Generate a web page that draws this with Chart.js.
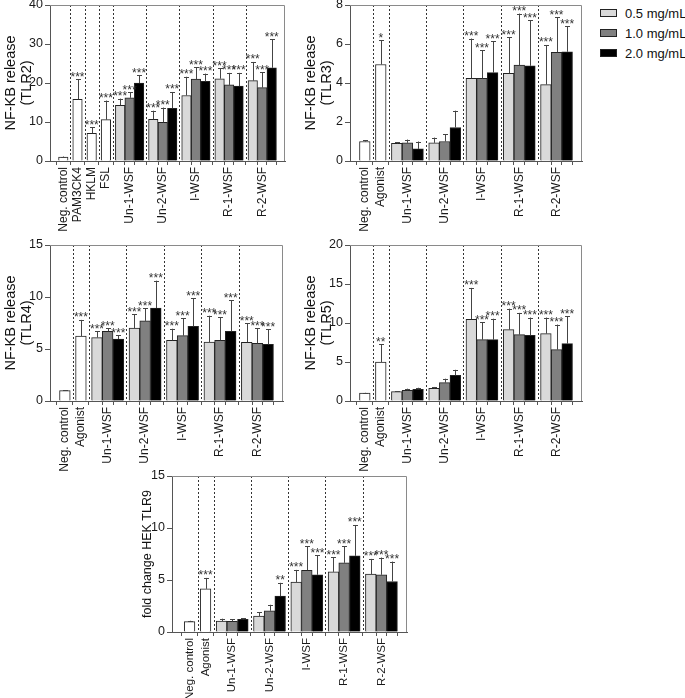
<!DOCTYPE html>
<html>
<head>
<meta charset="utf-8">
<script src="https://cdn.jsdelivr.net/npm/chart.js@4.4.1/dist/chart.umd.min.js"></script>
<style>
  body { margin: 0; background: #fff; width: 685px; height: 698px; position: relative; overflow: hidden;
         font-family: "Liberation Sans", Arial, sans-serif; }
  canvas { position: absolute; }
  #legend { position: absolute; left: 600px; top: 3px; font-size: 13px; color: #111; }
  #legend div { height: 20px; display: flex; align-items: center; white-space: nowrap; }
  #legend span { display: inline-block; width: 15px; height: 6px; border: 1px solid #222; margin-right: 8px; }
</style>
</head>
<body>
<canvas id="tlr2"></canvas>
<canvas id="tlr3"></canvas>
<canvas id="tlr4"></canvas>
<canvas id="tlr5"></canvas>
<canvas id="tlr9"></canvas>
<div id="legend"></div>
<script>
// ---- data ----
const seriesNames = ["0.5 mg/mL", "1.0 mg/mL", "2.0 mg/mL"];
const seriesColors = ["#d9d9d9", "#808080", "#000000"];

const tlr2Categories = ["Neg. control", "PAM3CK4", "HKLM", "FSL", "Un-1-WSF", "Un-2-WSF", "I-WSF", "R-1-WSF", "R-2-WSF"];
const agonistCategories = ["Neg. control", "Agonist", "Un-1-WSF", "Un-2-WSF", "I-WSF", "R-1-WSF", "R-2-WSF"];

// TLR2
const tlr2Ticks = [0, 10, 20, 30, 40];
const tlr2Controls = [1.0, 15.8, 7.1, 10.6];
const tlr2ControlErr = [1.15, 21.0, 8.7, 15.5];
const tlr2ControlStars = ["", "***", "***", "***"];
const tlr2Low = [14.3, 10.7, 16.8, 21.1, 20.6];
const tlr2LowErr = [16.0, 12.9, 21.6, 23.8, 25.4];
const tlr2Mid = [16.2, 9.9, 21.0, 19.5, 18.8];
const tlr2MidErr = [17.6, 13.7, 24.0, 22.6, 22.7];
const tlr2High = [20.0, 13.5, 20.4, 19.2, 23.9];
const tlr2HighErr = [22.0, 17.7, 22.4, 22.6, 31.2];
const tlr2Stars = ["***", "***", "***", "***", "***"];

// TLR3
const tlr3Ticks = [0, 2, 4, 6, 8];
const tlr3Controls = [1.0, 4.95];
const tlr3ControlErr = [1.07, 6.2];
const tlr3ControlStars = ["", "*"];
const tlr3Low = [0.9, 0.93, 4.24, 4.5, 3.92];
const tlr3LowErr = [0.95, 1.2, 6.28, 6.34, 5.95];
const tlr3Mid = [0.93, 1.0, 4.24, 4.92, 5.57];
const tlr3MidErr = [1.1, 1.38, 5.68, 7.56, 7.36];
const tlr3High = [0.62, 1.72, 4.53, 4.88, 5.6];
const tlr3HighErr = [1.0, 2.58, 6.15, 7.22, 6.9];
const tlr3Stars = ["", "", "***", "***", "***"];

// TLR4
const tlr4Ticks = [0, 5, 10, 15];
const tlr4Controls = [1.0, 6.25];
const tlr4ControlErr = [1.05, 7.8];
const tlr4ControlStars = ["", "***"];
const tlr4Low = [6.1, 7.0, 5.83, 5.67, 5.64];
const tlr4LowErr = [6.7, 8.33, 6.95, 8.2, 7.47];
const tlr4Mid = [6.7, 7.7, 6.28, 5.83, 5.54];
const tlr4MidErr = [7.0, 8.9, 7.98, 8.04, 7.0];
const tlr4High = [5.96, 8.94, 7.18, 6.7, 5.45];
const tlr4HighErr = [6.3, 11.57, 9.9, 9.68, 6.92];
const tlr4Stars = ["***", "***", "***", "***", "***"];

// TLR5
const tlr5Ticks = [0, 5, 10, 15, 20];
const tlr5Controls = [1.0, 5.0];
const tlr5ControlErr = [1.05, 7.26];
const tlr5ControlStars = ["", "**"];
const tlr5Low = [1.2, 1.62, 10.47, 9.15, 8.63];
const tlr5LowErr = [1.28, 1.8, 14.5, 11.84, 10.7];
const tlr5Mid = [1.37, 2.35, 7.86, 8.5, 6.58];
const tlr5MidErr = [1.58, 2.86, 10.1, 11.3, 9.8];
const tlr5High = [1.5, 3.3, 7.86, 8.42, 7.35];
const tlr5HighErr = [1.7, 4.0, 10.55, 10.7, 10.85];
const tlr5Stars = ["", "", "***", "***", "***"];

// TLR9
const tlr9Ticks = [0, 5, 10, 15];
const tlr9Controls = [1.0, 4.15];
const tlr9ControlErr = [1.08, 5.2];
const tlr9ControlStars = ["", "***"];
const tlr9Low = [1.05, 1.53, 4.8, 5.78, 5.56];
const tlr9LowErr = [1.28, 1.92, 5.97, 7.19, 7.03];
const tlr9Mid = [1.02, 2.04, 5.94, 6.65, 5.5];
const tlr9MidErr = [1.25, 2.62, 8.24, 8.24, 7.16];
const tlr9High = [1.21, 3.45, 5.5, 7.32, 4.86];
const tlr9HighErr = [1.3, 4.73, 7.4, 10.29, 6.77];
const tlr9Stars = ["", "", "***", "***", "***"];
const tlr9HighStars = ["", "**", "***", "***", "***"];

// ---- drawing ----
const FONT = '"Liberation Sans", Arial, sans-serif';

const decorations = {
  id: "decorations",
  beforeDatasetsDraw(chart, args, opts) {
    const { ctx, chartArea: a, scales: { x } } = chart;
    ctx.save();
    ctx.strokeStyle = "#333";
    ctx.lineWidth = 1;
    ctx.setLineDash([2, 2]);
    opts.bounds.forEach(b => {
      const px = Math.round(x.getPixelForValue(b)) + 0.5;
      ctx.beginPath();
      ctx.moveTo(px, a.top);
      ctx.lineTo(px, a.bottom);
      ctx.stroke();
    });
    ctx.setLineDash([]);
    ctx.strokeStyle = "#8a8a8a";
    ctx.beginPath();
    ctx.moveTo(a.left, Math.round(a.top) + 0.5);
    ctx.lineTo(Math.round(a.right) - 0.5, Math.round(a.top) + 0.5);
    ctx.lineTo(Math.round(a.right) - 0.5, a.bottom);
    ctx.stroke();
    ctx.restore();
  },
  afterDatasetsDraw(chart) {
    const { ctx, scales: { y } } = chart;
    ctx.save();
    chart.data.datasets.forEach((ds, di) => {
      chart.getDatasetMeta(di).data.forEach((bar, j) => {
        const top = y.getPixelForValue(ds.errTop[j]);
        const cx = Math.round(bar.x) + 0.5;
        ctx.strokeStyle = "#444";
        ctx.lineWidth = 1;
        ctx.beginPath();
        ctx.moveTo(cx, bar.y);
        ctx.lineTo(cx, top);
        ctx.moveTo(cx - 2.5, Math.round(top) + 0.5);
        ctx.lineTo(cx + 2.5, Math.round(top) + 0.5);
        ctx.stroke();
        if (ds.stars[j]) {
          ctx.fillStyle = "#333";
          ctx.font = "12px " + FONT;
          ctx.textAlign = "center";
          ctx.textBaseline = "alphabetic";
          ctx.fillText(ds.stars[j], bar.x, top + 1.5);
        }
      });
    });
    ctx.restore();
  }
};

function zeroPad(s) {
  s.paddingLeft = 0; s.paddingRight = 0; s.paddingTop = 0; s.paddingBottom = 0;
}

function buildPanel(p) {
  const canvas = document.getElementById(p.id);
  canvas.width = p.box[2];
  canvas.height = p.box[3];
  canvas.style.left = p.box[0] + "px";
  canvas.style.top = p.box[1] + "px";
  const yAxisWidth = p.plot[0] - p.box[0];
  const xAxisHeight = p.box[1] + p.box[3] - p.plot[3];

  const nSingle = p.controls.length;
  let cursor = p.padUnits || 0;
  const singleX = [], groupX = [[], [], []], bounds = [], tickVals = [];
  const labelAt = new Map();
  p.categories.forEach((name, i) => {
    if (i > 0) bounds.push(cursor);
    if (i < nSingle) {
      const x = cursor + 1.5;
      singleX.push(x); tickVals.push(x); labelAt.set(x, name);
      cursor += 3;
    } else {
      for (let k = 0; k < 3; k++) {
        const x = cursor + 1.5 + 2 * k;
        groupX[k].push(x); tickVals.push(x);
      }
      labelAt.set(cursor + 3.5, name);
      cursor += 7;
    }
  });

  const datasets = [{
    label: "control",
    data: singleX.map((x, i) => ({ x, y: p.controls[i] })),
    errTop: p.controlErr,
    stars: p.controlStars,
    backgroundColor: "#ffffff"
  }];
  p.series.forEach((vals, k) => {
    datasets.push({
      label: seriesNames[k],
      data: groupX[k].map((x, j) => ({ x, y: vals[j] })),
      errTop: p.errors[k],
      stars: p.stars[k],
      backgroundColor: seriesColors[k]
    });
  });
  datasets.forEach(d => {
    d.borderColor = "#222";
    d.borderWidth = 1;
    d.barPercentage = 1;
    d.categoryPercentage = 1;
    d.grouped = false;
  });

  new Chart(canvas, {
    type: "bar",
    data: { datasets },
    plugins: [decorations],
    options: {
      responsive: false,
      animation: false,
      devicePixelRatio: 1,
      layout: { padding: { left: 0, bottom: 0, top: p.plot[1] - p.box[1], right: p.box[0] + p.box[2] - p.plot[2] } },
      plugins: {
        legend: { display: false },
        tooltip: { enabled: false },
        decorations: { bounds }
      },
      scales: {
        x: {
          type: "linear",
          min: 0,
          max: cursor,
          afterBuildTicks: s => { s.ticks = tickVals.map(v => ({ value: v })); },
          afterFit: s => { s.height = xAxisHeight; zeroPad(s); },
          ticks: {
            autoSkip: false, minRotation: 90, maxRotation: 90, padding: 2,
            color: "#1a1a1a", font: { family: FONT, size: p.labelSize },
            callback: v => labelAt.get(v) || ""
          },
          grid: { drawOnChartArea: false, tickLength: 4, color: "#555" },
          border: { color: "#555" }
        },
        y: {
          type: "linear",
          min: 0,
          max: p.ticks[p.ticks.length - 1],
          afterBuildTicks: s => { s.ticks = p.ticks.map(v => ({ value: v })); },
          afterFit: s => { s.width = yAxisWidth; zeroPad(s); },
          ticks: { padding: 2, color: "#1a1a1a", font: { family: FONT, size: 12.5 } },
          grid: { drawOnChartArea: false, tickLength: 5, color: "#555" },
          border: { color: "#555" },
          title: {
            display: true, text: p.title, color: "#111",
            font: { family: FONT, size: p.titleSize, lineHeight: p.titleLine },
            padding: { top: p.titlePad, bottom: 0 }
          }
        }
      }
    }
  });
}

const panels = [
  { id: "tlr2", box: [0, 0, 300, 235], plot: [50, 5, 285, 161], categories: tlr2Categories, ticks: tlr2Ticks,
    title: ["NF-KB release", "(TLR2)"], titleSize: 14.5, titleLine: 1.1, titlePad: 3, labelSize: 12,
    controls: tlr2Controls, controlErr: tlr2ControlErr, controlStars: tlr2ControlStars,
    series: [tlr2Low, tlr2Mid, tlr2High], errors: [tlr2LowErr, tlr2MidErr, tlr2HighErr], stars: [tlr2Stars, tlr2Stars, tlr2Stars] },
  { id: "tlr3", box: [300, 0, 290, 235], plot: [350, 5, 582, 161], categories: agonistCategories, ticks: tlr3Ticks,
    title: ["NF-KB release", "(TLR3)"], titleSize: 14.5, titleLine: 1.1, titlePad: 3, labelSize: 12,
    controls: tlr3Controls, controlErr: tlr3ControlErr, controlStars: tlr3ControlStars,
    series: [tlr3Low, tlr3Mid, tlr3High], errors: [tlr3LowErr, tlr3MidErr, tlr3HighErr], stars: [tlr3Stars, tlr3Stars, tlr3Stars] },
  { id: "tlr4", box: [0, 235, 300, 240], plot: [50, 245, 283, 401], categories: agonistCategories, ticks: tlr4Ticks,
    title: ["NF-KB release", "(TLR4)"], titleSize: 14.5, titleLine: 1.1, titlePad: 3, labelSize: 12,
    controls: tlr4Controls, controlErr: tlr4ControlErr, controlStars: tlr4ControlStars,
    series: [tlr4Low, tlr4Mid, tlr4High], errors: [tlr4LowErr, tlr4MidErr, tlr4HighErr], stars: [tlr4Stars, tlr4Stars, tlr4Stars] },
  { id: "tlr5", box: [300, 235, 290, 240], plot: [350, 245, 582, 401], categories: agonistCategories, ticks: tlr5Ticks,
    title: ["NF-KB release", "(TLR5)"], titleSize: 14.5, titleLine: 1.1, titlePad: 3, labelSize: 12,
    controls: tlr5Controls, controlErr: tlr5ControlErr, controlStars: tlr5ControlStars,
    series: [tlr5Low, tlr5Mid, tlr5High], errors: [tlr5LowErr, tlr5MidErr, tlr5HighErr], stars: [tlr5Stars, tlr5Stars, tlr5Stars] },
  { id: "tlr9", box: [130, 466, 290, 232], plot: [172, 476, 407, 632], categories: agonistCategories, ticks: tlr9Ticks,
    title: "fold change HEK TLR9", titleSize: 12.5, titleLine: 1.15, titlePad: 10, padUnits: 0.5, labelSize: 11.5,
    controls: tlr9Controls, controlErr: tlr9ControlErr, controlStars: tlr9ControlStars,
    series: [tlr9Low, tlr9Mid, tlr9High], errors: [tlr9LowErr, tlr9MidErr, tlr9HighErr], stars: [tlr9Stars, tlr9Stars, tlr9HighStars] }
];
panels.forEach(buildPanel);

// legend
const legend = document.getElementById("legend");
seriesNames.forEach((name, k) => {
  const row = document.createElement("div");
  const sw = document.createElement("span");
  sw.style.background = seriesColors[k];
  row.appendChild(sw);
  row.appendChild(document.createTextNode(name));
  legend.appendChild(row);
});
</script>
</body>
</html>
